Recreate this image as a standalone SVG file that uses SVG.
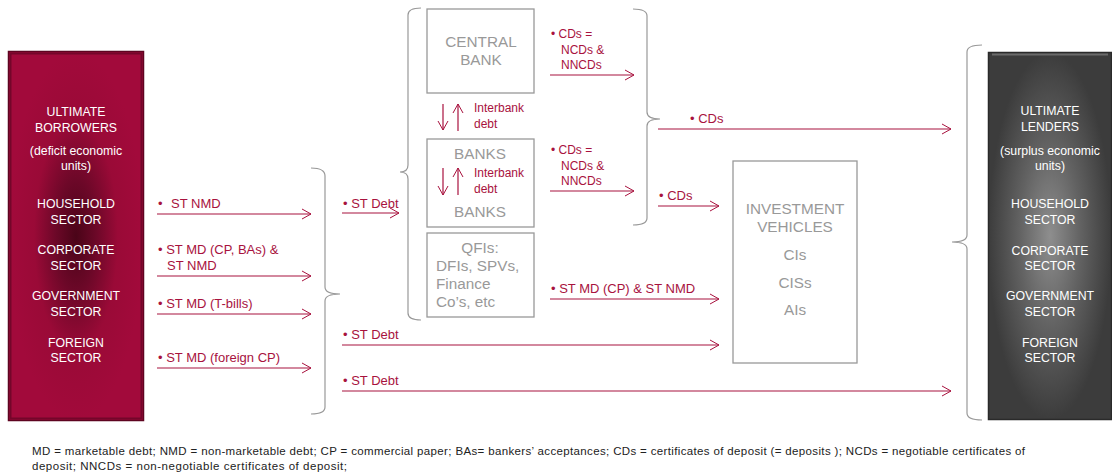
<svg xmlns="http://www.w3.org/2000/svg" width="1112" height="476" viewBox="0 0 1112 476">
<defs>
<radialGradient id="gRed" cx="0.5" cy="0.5" r="0.5">
<stop offset="0" stop-color="#4a0418"/>
<stop offset="0.3" stop-color="#6c0828"/>
<stop offset="0.62" stop-color="#9a0a37"/>
<stop offset="1" stop-color="#a20a3b"/>
</radialGradient>
<radialGradient id="gGrey" cx="0.5" cy="0.5" r="0.5">
<stop offset="0" stop-color="#8e8e8e"/>
<stop offset="0.5" stop-color="#626262"/>
<stop offset="1" stop-color="#3c3c3c"/>
</radialGradient>
<marker id="ah" markerWidth="12" markerHeight="12" refX="10" refY="6" orient="auto" markerUnits="userSpaceOnUse">
<path d="M1,1 L10,6 L1,11" fill="none" stroke="#a8123e" stroke-width="1"/>
</marker>
</defs>
<style>
text{font-family:"Liberation Sans",Arial,sans-serif;}
.w{fill:#ffffff;font-size:12.3px;text-anchor:middle;}
.g{fill:#999999;font-size:15.3px;}
.gc{text-anchor:middle;}
.r{fill:#a8123e;font-size:13px;}
.s{fill:#a8123e;font-size:12px;}
.box{fill:#ffffff;stroke:#999999;stroke-width:1.3;}
.br{fill:none;stroke:#999999;stroke-width:1.2;}
.c{stroke:#a8123e;stroke-width:1.2;fill:none;marker-end:url(#ah);}
.f{fill:#222222;font-size:11.5px;}
</style>

<g id="borrowers">
<rect x="8.5" y="51.5" width="135" height="369" fill="url(#gRed)" stroke="#5e0420" stroke-width="1.5"/>
<rect x="10.5" y="53.5" width="131" height="365" fill="none" stroke="#74062a" stroke-width="2"/>
<text class="w" x="76" y="116">ULTIMATE</text>
<text class="w" x="76" y="132">BORROWERS</text>
<text class="w" x="76" y="155">(deficit economic</text>
<text class="w" x="76" y="170">units)</text>
<text class="w" x="76" y="208">HOUSEHOLD</text>
<text class="w" x="76" y="224">SECTOR</text>
<text class="w" x="76" y="254">CORPORATE</text>
<text class="w" x="76" y="270">SECTOR</text>
<text class="w" x="76" y="300">GOVERNMENT</text>
<text class="w" x="76" y="316">SECTOR</text>
<text class="w" x="76" y="347">FOREIGN</text>
<text class="w" x="76" y="362">SECTOR</text>
</g>

<g id="lenders">
<rect x="988.5" y="52.5" width="123" height="367" fill="url(#gGrey)" stroke="#2a2a2a" stroke-width="1.5"/>
<line x1="992" y1="54.5" x2="1108" y2="54.5" stroke="#6a6a6a" stroke-width="2"/>
<text class="w" x="1050" y="115">ULTIMATE</text>
<text class="w" x="1050" y="131">LENDERS</text>
<text class="w" x="1050" y="155">(surplus economic</text>
<text class="w" x="1050" y="170">units)</text>
<text class="w" x="1050" y="208">HOUSEHOLD</text>
<text class="w" x="1050" y="224">SECTOR</text>
<text class="w" x="1050" y="255">CORPORATE</text>
<text class="w" x="1050" y="270">SECTOR</text>
<text class="w" x="1050" y="300">GOVERNMENT</text>
<text class="w" x="1050" y="316">SECTOR</text>
<text class="w" x="1050" y="347">FOREIGN</text>
<text class="w" x="1050" y="362">SECTOR</text>
</g>

<g id="central-bank">
<rect class="box" x="427" y="9" width="107" height="84"/>
<text class="g gc" x="481" y="47">CENTRAL</text>
<text class="g gc" x="481" y="65">BANK</text>
</g>

<g id="banks">
<rect class="box" x="427" y="139" width="107" height="88"/>
<text class="g gc" x="480" y="159">BANKS</text>
<text class="g gc" x="480" y="217">BANKS</text>
</g>

<g id="qfis">
<rect class="box" x="427" y="233" width="107" height="84"/>
<text class="g gc" x="480" y="253">QFIs:</text>
<text class="g" x="436" y="271">DFIs, SPVs,</text>
<text class="g" x="436" y="289">Finance</text>
<text class="g" x="436" y="307">Co’s, etc</text>
</g>

<g id="investment-vehicles">
<rect class="box" x="733" y="161" width="124" height="202"/>
<text class="g gc" x="795" y="214">INVESTMENT</text>
<text class="g gc" x="795" y="232">VEHICLES</text>
<text class="g gc" x="795" y="260">CIs</text>
<text class="g gc" x="795" y="288">CISs</text>
<text class="g gc" x="795" y="315">AIs</text>
</g>

<g id="braces">
<path class="br" d="M311,168 Q325,168 325,176 L325,287 Q325,294 340,294 Q325,294 325,301 L325,407 Q325,414 311,414"/>
<path class="br" d="M421,8 Q408,8 408,15 L408,165 Q408,172 400,172 Q408,172 408,179 L408,313 Q408,320 421,320"/>
<path class="br" d="M633,9 Q647,9 647,16 L647,112 Q647,119 660,119 Q647,119 647,126 L647,218 Q647,225 633,225"/>
<path class="br" d="M982,45 Q967,45 967,52 L967,235 Q967,242 952,242 Q967,242 967,249 L967,413 Q967,420 982,420"/>
</g>

<g id="connectors">
<line class="c" x1="157" y1="214" x2="311" y2="214"/>
<line class="c" x1="157" y1="276" x2="311" y2="276"/>
<line class="c" x1="157" y1="314" x2="311" y2="314"/>
<line class="c" x1="157" y1="368" x2="311" y2="368"/>
<line class="c" x1="342" y1="213" x2="399" y2="213"/>
<line class="c" x1="342" y1="345" x2="719" y2="345"/>
<line class="c" x1="342" y1="391" x2="951" y2="391"/>
<line class="c" x1="550" y1="75" x2="634" y2="75"/>
<line class="c" x1="550" y1="191" x2="634" y2="191"/>
<line class="c" x1="658" y1="129" x2="951" y2="129"/>
<line class="c" x1="658" y1="206" x2="719" y2="206"/>
<line class="c" x1="550" y1="299" x2="719" y2="299"/>
<line class="c" x1="443" y1="104" x2="443" y2="130"/>
<line class="c" x1="458" y1="131" x2="458" y2="104"/>
<line class="c" x1="443" y1="168" x2="443" y2="195"/>
<line class="c" x1="458" y1="195" x2="458" y2="168"/>
</g>

<g id="labels">
<text class="r" x="158" y="208">•<tspan x="171">ST NMD</tspan></text>
<text class="r" x="158" y="254">• ST MD (CP, BAs) &amp;</text>
<text class="r" x="167" y="270">ST NMD</text>
<text class="r" x="158" y="308">• ST MD (T-bills)</text>
<text class="r" x="158" y="362">• ST MD (foreign CP)</text>
<text class="r" x="343" y="208">• ST Debt</text>
<text class="r" x="343" y="339">• ST Debt</text>
<text class="r" x="343" y="385">• ST Debt</text>
<text class="s" x="474" y="112">Interbank</text>
<text class="s" x="474" y="128">debt</text>
<text class="s" x="474" y="177">Interbank</text>
<text class="s" x="474" y="193">debt</text>
<text class="s" x="551" y="38">• CDs =</text>
<text class="s" x="561" y="54">NCDs &amp;</text>
<text class="s" x="561" y="69">NNCDs</text>
<text class="s" x="551" y="154">• CDs =</text>
<text class="s" x="561" y="170">NCDs &amp;</text>
<text class="s" x="561" y="185">NNCDs</text>
<text class="r" x="690" y="123">• CDs</text>
<text class="r" x="659" y="200">• CDs</text>
<text class="r" x="551" y="293">• ST MD (CP) &amp; ST NMD</text>
</g>

<g id="footer">
<text class="f" x="32" y="455" textLength="993" lengthAdjust="spacing">MD = marketable debt; NMD = non-marketable debt; CP = commercial paper; BAs= bankers’ acceptances; CDs = certificates of deposit (= deposits ); NCDs = negotiable certificates of</text>
<text class="f" x="32" y="470" textLength="315" lengthAdjust="spacing">deposit; NNCDs = non-negotiable certificates of deposit;</text>
</g>
</svg>
